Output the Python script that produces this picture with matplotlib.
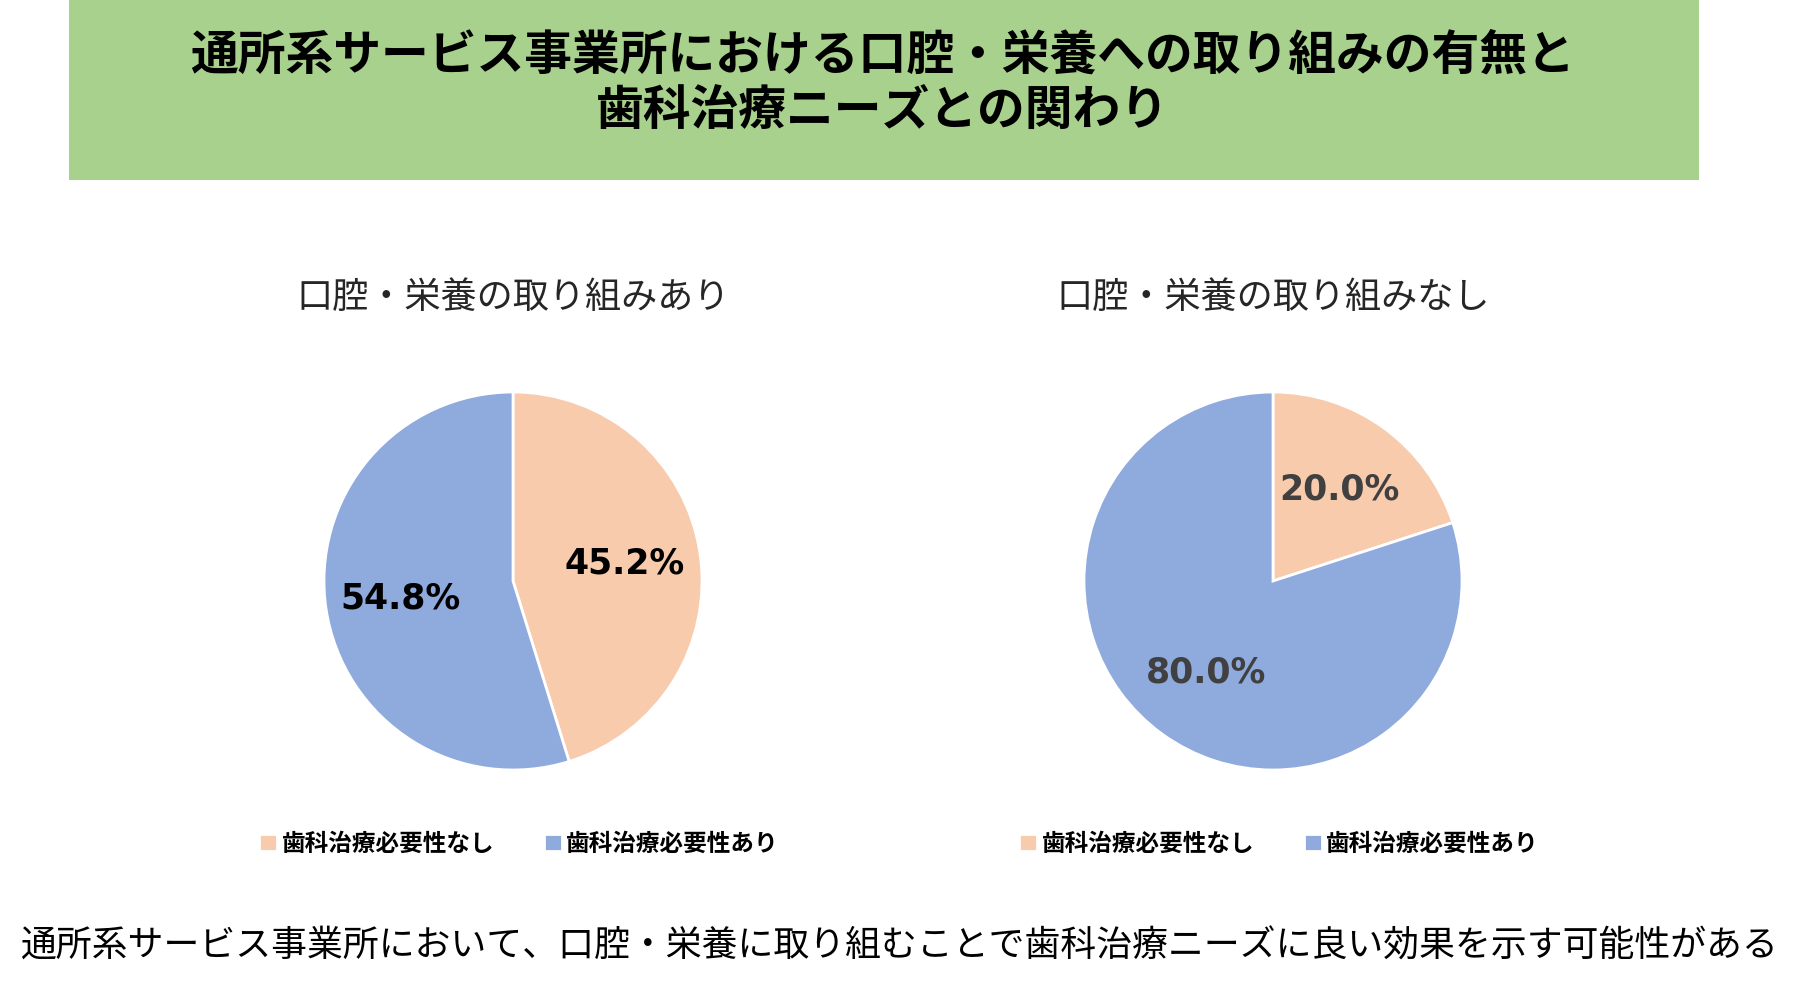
import matplotlib
matplotlib.use("Agg")
import matplotlib.pyplot as plt
from matplotlib.patches import Rectangle

plt.rcParams['font.family'] = ['Noto Sans CJK JP', 'DejaVu Sans']

title_lines = ["通所系サービス事業所における口腔・栄養への取り組みの有無と", "歯科治療ニーズとの関わり"]
pie_titles = ["口腔・栄養の取り組みあり", "口腔・栄養の取り組みなし"]
categories = ["歯科治療必要性なし", "歯科治療必要性あり"]
values_with = [45.2, 54.8]
values_without = [20.0, 80.0]
footer = "通所系サービス事業所において、口腔・栄養に取り組むことで歯科治療ニーズに良い効果を示す可能性がある"

colors = ["#F8CBAD", "#8FAADC"]
label_colors = ["#000000", "#404040"]

W, H = 1800, 996
fig = plt.figure(figsize=(W / 100, H / 100), dpi=100)
fig.patch.set_facecolor("white")

# Banner
fig.add_artist(Rectangle((69 / W, 1 - 180 / H), (1699 - 69) / W, 180 / H,
                         transform=fig.transFigure, facecolor="#A9D18E", edgecolor="none", zorder=0))
fig.text(882 / W, 1 - 55 / H, title_lines[0], ha="center", va="center", fontsize=34.4,
         fontweight="bold", color="black")
fig.text(882 / W, 1 - 111 / H, title_lines[1], ha="center", va="center", fontsize=34.4,
         fontweight="bold", color="black")

centers_x = [513, 1273]
cy = 581
r = 189
datasets = [values_with, values_without]

for i, (cx, vals) in enumerate(zip(centers_x, datasets)):
    ax = fig.add_axes([(cx - r) / W, (H - cy - r) / H, 2 * r / W, 2 * r / H])
    wedges, _, autotexts = ax.pie(vals, colors=colors, startangle=90, counterclock=False,
                                  autopct=lambda p: f"{p:.1f}%", pctdistance=0.6,
                                  wedgeprops=dict(edgecolor="white", linewidth=2),
                                  textprops=dict(fontsize=25, fontweight="bold",
                                                 color=label_colors[i], family="DejaVu Sans"))
    ax.set_xlim(-1, 1)
    ax.set_ylim(-1, 1)
    ax.set_aspect("equal")
    ax.axis("off")
    fig.text(cx / W, 1 - 298 / H, pie_titles[i], ha="center", va="center", fontsize=26,
             color="#262626")
    fig.legend(wedges, categories, loc="center", bbox_to_anchor=((cx + 6) / W, 1 - 844 / H),
               ncol=2, frameon=False, handlelength=0.75, handleheight=0.75,
               handletextpad=0.2, columnspacing=2.1,
               prop=dict(size=17, weight="bold", family="Noto Sans CJK JP"))

fig.text(0.5, 1 - 947 / H, footer, ha="center", va="center", fontsize=25.8, color="black")

fig.savefig("out.png", dpi=100)
